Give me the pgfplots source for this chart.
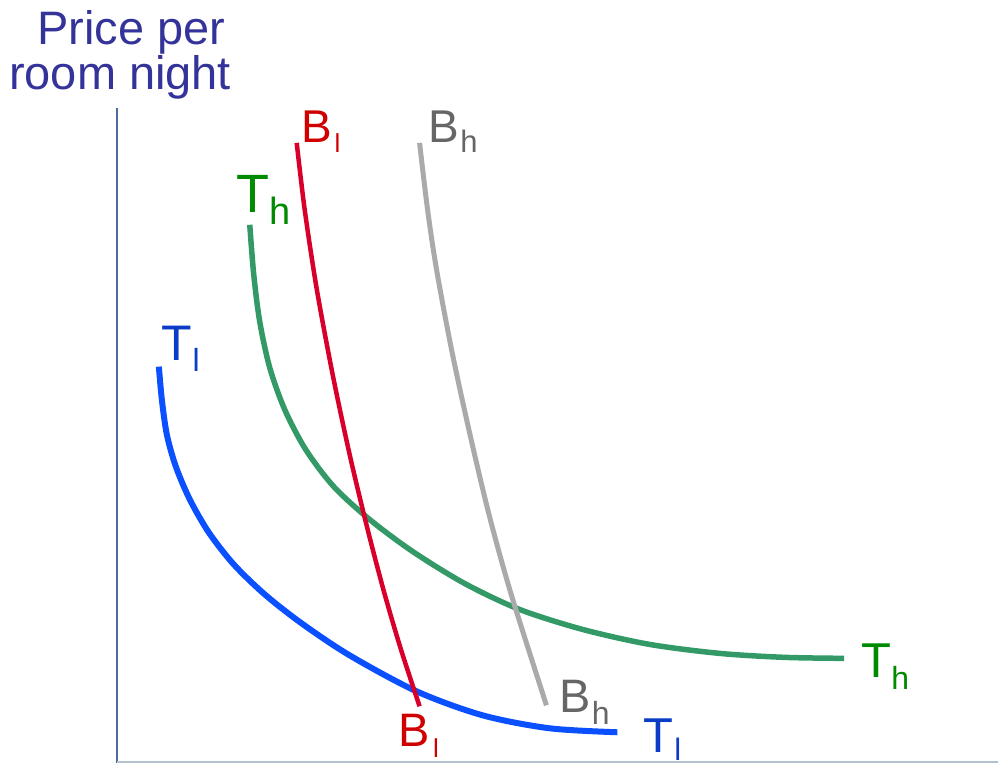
\documentclass[border=0pt]{standalone}
\usepackage{fontspec}
\setmainfont{Liberation Sans}
\usepackage{pgfplots}
\pgfplotsset{compat=1.18}
\usepackage{xcolor}

\definecolor{titleblue}{HTML}{333399}
\definecolor{tlline}{HTML}{0A50FF}
\definecolor{tllab}{HTML}{0A3CC8}
\definecolor{thline}{HTML}{339966}
\definecolor{thlab}{HTML}{008A00}
\definecolor{blline}{HTML}{D8002A}
\definecolor{bllab}{HTML}{D00000}
\definecolor{bhline}{HTML}{AAAAAA}
\definecolor{bhlab}{HTML}{666666}
\definecolor{yaxis}{HTML}{4C6C9C}
\definecolor{xaxis}{HTML}{B4C0CC}

\begin{document}
\begin{tikzpicture}
\begin{axis}[
    scale only axis,
    width=999pt, height=764pt,
    xmin=0, xmax=999, ymin=0, ymax=764,
    y dir=reverse,
    hide axis,
    clip=false,
]
\addplot[draw=none] coordinates {(0,0) (999,764)};

% axes
\addplot[yaxis, line width=1.6pt] coordinates {(117,108) (117,764)};
\addplot[xaxis, line width=2pt] coordinates {(117,763) (999,763)};

% T_l
\addplot[tlline, line width=6pt, smooth] coordinates {
    (159,367) (162,400) (167,435) (176,467) (190,500) (209,533)
    (234,565) (265,595) (302,624) (350,656) (417,692) (483,716)
    (550,729) (618,733)
};
% T_h
\addplot[thline, line width=5.5pt, smooth] coordinates {
    (250,225) (254,275) (260,322) (270,368) (285,410) (306,450)
    (334,487) (370,520) (413,552) (465,584) (520,610) (583,630)
    (650,645) (720,654) (785,658) (845,659)
};
% B_l
\addplot[blline, line width=4.5pt, smooth] coordinates {
    (297,143) (305,210) (317,289) (333,375) (350,455) (367,526)
    (384,591) (401,649) (420,707)
};
% B_h
\addplot[bhline, line width=5pt, smooth] coordinates {
    (420,143) (428,210) (437,270) (452,350) (470,433) (490,517)
    (512,596) (547,706)
};

% title
\node[anchor=base west, inner sep=0, titleblue] at (axis cs:37,45)
    {\fontsize{47}{47}\selectfont Price per};
\node[anchor=base west, inner sep=0, titleblue] at (axis cs:9,90)
    {\fontsize{47}{47}\selectfont room night};

% curve labels
\node[anchor=base west, inner sep=0, bllab] at (axis cs:302,143)
    {\fontsize{46}{46}\selectfont B\hspace{2pt}\raisebox{-10pt}{\fontsize{26}{26}\selectfont l}};
\node[anchor=base west, inner sep=0, bhlab] at (axis cs:429,143)
    {\fontsize{46}{46}\selectfont B\hspace{1pt}\raisebox{-10pt}{\fontsize{31}{31}\selectfont h}};
\node[anchor=base west, inner sep=0, thlab] at (axis cs:237,213)
    {\fontsize{54}{54}\selectfont T\raisebox{-12pt}{\fontsize{38}{38}\selectfont h}};
\node[anchor=base west, inner sep=0, tllab] at (axis cs:161,361)
    {\fontsize{50}{50}\selectfont T\hspace{1pt}\raisebox{-11pt}{\fontsize{32}{32}\selectfont l}};

\node[anchor=base west, inner sep=0, bllab] at (axis cs:399,747)
    {\fontsize{47}{47}\selectfont B\hspace{3pt}\raisebox{-11pt}{\fontsize{26}{26}\selectfont l}};
\node[anchor=base west, inner sep=0, bhlab] at (axis cs:560,713)
    {\fontsize{47}{47}\selectfont B\hspace{1pt}\raisebox{-12pt}{\fontsize{32}{32}\selectfont h}};
\node[anchor=base west, inner sep=0, tllab] at (axis cs:644,753)
    {\fontsize{49}{49}\selectfont T\hspace{1pt}\raisebox{-8pt}{\fontsize{31}{31}\selectfont l}};
\node[anchor=base west, inner sep=0, thlab] at (axis cs:862,678)
    {\fontsize{49}{49}\selectfont T\raisebox{-12pt}{\fontsize{32}{32}\selectfont h}};
\end{axis}
\end{tikzpicture}
\end{document}
